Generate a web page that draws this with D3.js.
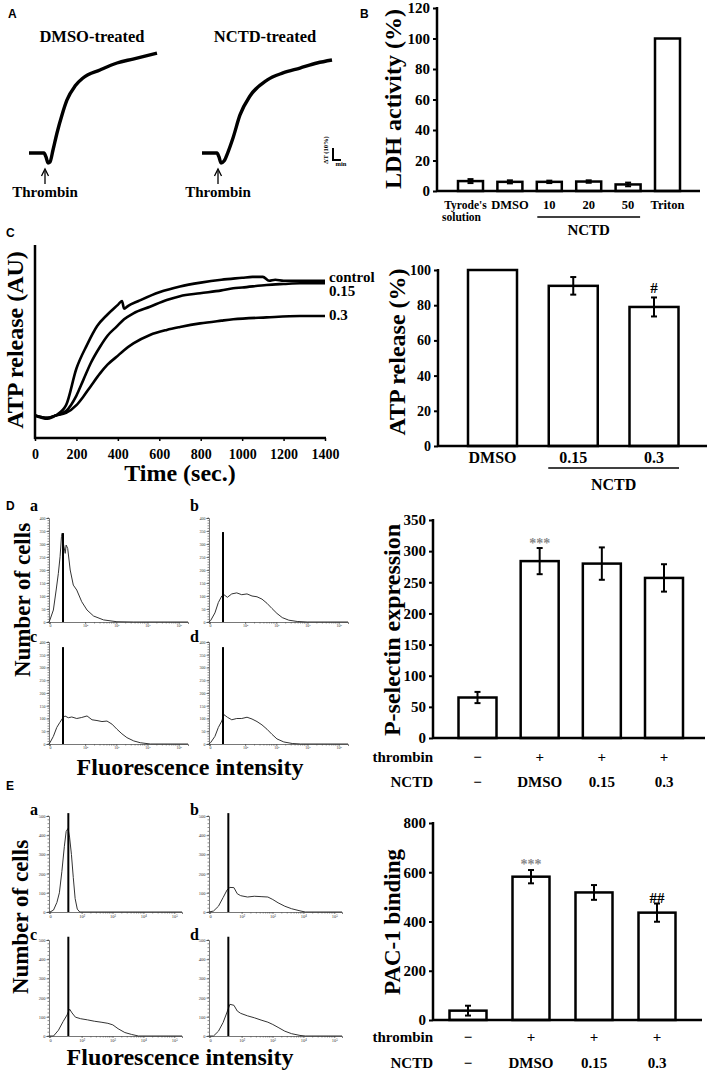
<!DOCTYPE html>
<html><head><meta charset="utf-8">
<script src="https://cdn.jsdelivr.net/npm/d3@7"></script>
<style>body{margin:0;background:#fff}svg{display:block}</style>
</head><body>
<svg id="fig" width="709" height="1077"></svg>
<script>
// ---------------- DATA ----------------
// Panel A: transmission traces (time in min, ΔT in %)
const aDmsoT = [0,1.875,2.125,2.375,2.625,3,3.5,4.125,4.75,5.75,6.75,8.875,11,13,16];
const aDmsoV = [0,0,-3.3,-8.3,-7.5,2.5,16.7,31.7,44.2,55.8,62.5,69.2,75,78.3,83.3];
const aNctdT = [0,1.875,2.125,2.375,2.75,3.25,3.875,4.75,6,8.125,10.125,12.25,14.375,16.25];
const aNctdV = [0,0,-3.3,-8.3,-6.7,0.8,12.5,31.7,47.5,60.8,66.7,70.8,75,77.5];
const aTitles = ["DMSO-treated","NCTD-treated"];
const aThrombinTime = 2.0;

// Panel B: LDH activity
const bCats = ["Tyrode's solution","DMSO","10","20","50","Triton"];
const bVals = [6.5,6,6,6.2,4.3,100];
const bErrs = [1.3,1.0,0.8,0.8,1.2,0];
const bTicks = [0,20,40,60,80,100,120];

// Panel C left: ATP release traces
const cCtrlT = [0,60,100,150,200,250,300,350,400,420,430,450,500,600,700,800,900,1000,1050,1100,1130,1160,1200,1300,1400];
const cCtrlV = [11.7,10,11.7,17,36,48,58,64,69,71,67,68.5,71,75.5,78.5,80.5,82,83,83.5,83.5,81.5,82,81.5,81.5,81.5];
const c015T = [0,60,100,150,200,233,270,314,350,394,430,475,555,636,700,797,900,957,1000,1118,1200,1279,1400];
const c015V = [11.7,10.5,11.7,14,22,30,39,47.3,53,57.7,61.5,64.6,68,71.5,73.5,75,76.5,77.6,78,79.3,79.8,80.2,80.2];
const c03T = [0,60,100,150,200,233,270,314,350,394,430,475,555,636,700,797,900,957,1118,1279,1400];
const c03V = [11.7,10.5,11.7,13,17,21.4,27,33.5,38,42.1,45.5,49,53.4,56,57.5,59.4,60.8,61.5,62.5,63.2,63.2];
const cLineLabels = ["control","0.15","0.3"];
const cTimeTicks = [0,200,400,600,800,1000,1200,1400];

// Panel C right: ATP release %
const cbCats = ["DMSO","0.15","0.3"];
const cbVals = [100,91,79];
const cbErrs = [0,5,5.4];
const cbTicks = [0,20,40,60,80,100];

// Panel D right: P-selectin
const dCats = ["ctrl","DMSO","0.15","0.3"];
const dVals = [65,284,280,257];
const dErrs = [9,21,26,22];
const dTicks = [0,50,100,150,200,250,300,350];
const rowThrombin = ["−","+","+","+"];
const rowNCTD = ["−","DMSO","0.15","0.3"];

// Panel E right: PAC-1 binding
const eVals = [38,582,518,436];
const eErrs = [20,27,30,37];
const eTicks = [0,200,400,600,800];

// Panel D histograms (x: log decade position, y: counts)
const hDaX = [0.84,0.87,0.98,1.07,1.14,1.195,1.24,1.26,1.30,1.36,1.39,1.44,1.52,1.62,1.73,1.89,2.06,2.27,2.59,3.02,3.56,5.3];
const hDaY = [0,8,46,123,187,251,328,341,303,264,296,283,200,142,123,78,46,23,8,1,0,0];
const hDbX = [0.84,0.89,1.03,1.14,1.25,1.32,1.43,1.57,1.73,1.89,2.06,2.22,2.38,2.54,2.70,2.86,3.02,3.19,3.40,3.67,3.99,5.3];
const hDbY = [0,5,35,75,100,105,95,108,112,105,108,100,97,88,72,52,33,17,7,2,0,0];
const hDcX = [0.84,0.87,0.98,1.09,1.19,1.27,1.35,1.46,1.57,1.73,1.89,2.06,2.22,2.38,2.54,2.70,2.86,3.02,3.18,3.34,3.56,3.77,4.09,5.3];
const hDcY = [0,5,30,65,85,100,110,103,106,100,104,110,95,92,88,90,78,58,40,25,12,5,0,0];
const hDdX = [0.84,0.89,1.03,1.14,1.25,1.32,1.43,1.57,1.73,1.89,2.06,2.22,2.38,2.54,2.70,2.86,3.02,3.24,3.51,3.78,5.3];
const hDdY = [0,5,30,65,90,115,105,95,100,100,105,98,88,75,58,38,20,8,2,0,0];
const hDMarkerTop = [342,346,380,380];
// Panel E histograms
const hEaX = [0.944,0.977,1.09,1.20,1.28,1.36,1.44,1.50,1.56,1.61,1.67,1.73,1.79,1.86,1.94,5.25];
const hEaY = [0,0,10,50,100,210,340,420,435,390,300,180,70,15,0,0];
const hEbX = [0.944,1.09,1.25,1.40,1.53,1.62,1.75,1.86,1.97,2.19,2.41,2.63,2.85,3.01,3.18,3.40,3.62,3.89,4.06,5.25];
const hEbY = [0,5,30,75,115,128,127,95,85,78,82,80,78,65,48,30,17,6,0,0];
const hEcX = [0.944,1.09,1.25,1.40,1.53,1.61,1.69,1.80,1.97,2.19,2.41,2.63,2.85,3.01,3.18,3.40,3.62,3.84,5.25];
const hEcY = [0,0,30,75,110,140,120,98,90,84,77,72,66,58,38,18,8,0,0];
const hEdX = [0.944,1.09,1.25,1.40,1.53,1.62,1.75,1.86,1.97,2.19,2.41,2.63,2.85,3.01,3.18,3.40,3.62,3.89,4.06,5.25];
const hEdY = [0,0,25,70,125,165,160,130,118,105,95,83,72,60,45,25,12,3,0,0];
const hEMarkerTop = [515,515,517,517];
const hDecadeTicks = ["0","10²","10³","10⁴","10⁵"];
const subLabels = ["a","b","c","d"];

// ---------------- DRAWING ----------------
const svg = d3.select("#fig");
const SERIF = '"Liberation Serif","Times New Roman",serif';
const SANS = '"Liberation Sans",Arial,sans-serif';

function txt(x, y, s, size, anchor = "middle", family = SERIF, fill = "#000") {
  return svg.append("text").attr("x", x).attr("y", y).attr("font-size", size)
    .attr("text-anchor", anchor).attr("font-family", family).attr("font-weight", "bold")
    .attr("fill", fill).text(s);
}
function vtxt(x, y, s, size) {
  return svg.append("text").attr("transform", `translate(${x},${y}) rotate(-90)`)
    .attr("text-anchor", "middle").attr("dominant-baseline", "central")
    .attr("font-size", size).attr("font-family", SERIF).attr("font-weight", "bold").text(s);
}
function line(x1, y1, x2, y2, w = 2, col = "#000") {
  svg.append("line").attr("x1", x1).attr("y1", y1).attr("x2", x2).attr("y2", y2)
    .attr("stroke", col).attr("stroke-width", w);
}

// Panel letters
txt(8, 18, "A", 12, "start", SANS);
txt(360, 18, "B", 12, "start", SANS);
txt(6, 237, "C", 12, "start", SANS);
txt(6, 510, "D", 12, "start", SANS);
txt(6, 790, "E", 12, "start", SANS);

// ---- Panel A ----
{
  const pxPerMin = 8, pxPerPct = 1.2, base = 153;
  const yA = d3.scaleLinear().domain([0, 10]).range([base, base - 10 * pxPerPct]);
  const traces = [[aDmsoT, aDmsoV, 29], [aNctdT, aNctdV, 202]];
  traces.forEach(([T, V, x0], k) => {
    const xA = d3.scaleLinear().domain([0, 1]).range([x0, x0 + pxPerMin]);
    const gen = d3.line().x(d => xA(d[0])).y(d => yA(d[1])).curve(d3.curveMonotoneX);
    svg.append("path").attr("d", gen(T.map((t, i) => [t, V[i]])))
      .attr("fill", "none").attr("stroke", "#000").attr("stroke-width", 3.4);
    const ax = xA(aThrombinTime);
    line(ax, 171, ax, 184, 1.3);
    svg.append("path").attr("d", `M${ax - 3.5},${176} L${ax},${169} L${ax + 3.5},${176}`)
      .attr("fill", "none").attr("stroke", "#000").attr("stroke-width", 1.3);
    txt(ax, 197, "Thrombin", 15);
    txt(x0 + 63, 42, aTitles[k], 16.5);
  });
  // scale bar: 10% and 1 min
  const sbX = 333, sbY = 160;
  const xS = d3.scaleLinear().domain([0, 1]).range([sbX, sbX + pxPerMin]);
  const yS = d3.scaleLinear().domain([0, 10]).range([sbY, sbY - 10 * pxPerPct]);
  line(sbX, yS(10), sbX, yS(0) + 1, 2);
  line(sbX, sbY, xS(1), sbY, 2);
  svg.append("text").attr("transform", `translate(325,${sbY - 10}) rotate(-90)`)
    .attr("text-anchor", "middle").attr("dominant-baseline", "central")
    .attr("font-size", 6.5).attr("font-family", SERIF).attr("font-weight", "bold").text("ΔT (10%)");
  txt(sbX + 8, sbY + 6, "min", 6.5);
}

// ---- Generic bar chart ----
function barChart(o) {
  const y0 = o.y(0);
  svg.append("g").selectAll("rect").data(o.cats).join("rect")
    .attr("x", c => o.x(c) - o.barW / 2)
    .attr("y", (c, i) => o.y(o.vals[i]))
    .attr("width", o.barW)
    .attr("height", (c, i) => y0 - o.y(o.vals[i]))
    .attr("fill", "#fff").attr("stroke", "#000").attr("stroke-width", 2.5);
  o.cats.forEach((c, i) => {
    if (!o.errs[i]) return;
    const cx = o.x(c), yt = o.y(o.vals[i] + o.errs[i]), yb = o.y(o.vals[i] - o.errs[i]);
    line(cx, yt, cx, yb, 2);
    line(cx - 3, yt, cx + 3, yt, 2);
    line(cx - 3, yb, cx + 3, yb, 2);
  });
  const ay = svg.append("g").attr("transform", `translate(${o.axisX},0)`)
    .call(d3.axisLeft(o.y).tickValues(o.ticks).tickFormat(d3.format("d")).tickSize(4).tickPadding(3));
  ay.select(".domain").remove();
  ay.selectAll("line").attr("stroke-width", 2);
  ay.selectAll("text").attr("font-family", SERIF).attr("font-weight", "bold").attr("font-size", o.tickFs || 15);
  line(o.axisX, o.y(o.ticks[o.ticks.length - 1]) - 1, o.axisX, y0 + 1, 2.5);
  line(o.axisX, y0, o.axisEnd, y0, 2.5);
}

// ---- Panel B ----
{
  const y = d3.scaleLinear().domain([0, 120]).range([191, 8]);
  const x = d3.scalePoint().domain(bCats).range([470.5, 667.5]);
  barChart({ cats: bCats, vals: bVals, errs: bErrs, x, y, barW: 25, axisX: 437, axisEnd: 700, ticks: bTicks, tickFs: 15 });
  bCats.forEach(c => {
    if (c === "Tyrode's solution") {
      txt(x(c) - 5, 209, "Tyrode's", 11.5);
      txt(x(c) - 9, 221, "solution", 11.5);
    } else txt(x(c), 209, c, 12.5);
  });
  line(x("10") - 12, 217, x("50") + 12, 217, 1.5);
  txt((x("10") + x("50")) / 2, 235, "NCTD", 15);
  vtxt(393, 99, "LDH activity (%)", 24);
}

// ---- Panel C left ----
{
  const x = d3.scaleLinear().domain([0, 1400]).range([35, 325]);
  const y = d3.scaleLinear().domain([0, 100]).range([438, 245]);
  const gen = d3.line().x(d => x(d[0])).y(d => y(d[1])).curve(d3.curveMonotoneX);
  [[c03T, c03V], [c015T, c015V], [cCtrlT, cCtrlV]].forEach(([T, V]) => {
    svg.append("path").attr("d", gen(T.map((t, i) => [t, V[i]])))
      .attr("fill", "none").attr("stroke", "#000").attr("stroke-width", 2.6);
  });
  const ax = svg.append("g").attr("transform", "translate(0,438)")
    .call(d3.axisBottom(x).tickValues(cTimeTicks).tickFormat(d3.format("d")).tickSize(3).tickPadding(8));
  ax.select(".domain").remove();
  ax.selectAll("line").attr("stroke-width", 1.5);
  ax.selectAll("text").attr("font-family", SERIF).attr("font-weight", "bold").attr("font-size", 14);
  line(35, 245, 35, 439, 2.5);
  line(34, 438, 326, 438, 2.5);
  txt(329, 282, cLineLabels[0], 15, "start");
  txt(329, 296, cLineLabels[1], 15, "start");
  txt(329, 320, cLineLabels[2], 15, "start");
  txt(180, 481, "Time (sec.)", 24);
  vtxt(15, 340, "ATP release (AU)", 24);
}

// ---- Panel C right ----
{
  const y = d3.scaleLinear().domain([0, 100]).range([446, 270]);
  const x = d3.scalePoint().domain(cbCats).range([492.5, 654]);
  barChart({ cats: cbCats, vals: cbVals, errs: cbErrs, x, y, barW: 49, axisX: 438, axisEnd: 707, ticks: cbTicks, tickFs: 14 });
  cbCats.forEach(c => txt(x(c), 463, c, 16));
  line(x("0.15") - 25, 468, x("0.3") + 25, 468, 1.5);
  txt((x("0.15") + x("0.3")) / 2, 490, "NCTD", 16);
  txt(x("0.3"), 293, "#", 15);
  vtxt(397, 352, "ATP release (%)", 24);
}

// ---- Panel D right ----
{
  const y = d3.scaleLinear().domain([0, 350]).range([738, 520]);
  const x = d3.scalePoint().domain(dCats).range([477.5, 664]);
  barChart({ cats: dCats, vals: dVals, errs: dErrs, x, y, barW: 38, axisX: 433, axisEnd: 705, ticks: dTicks, tickFs: 15 });
  txt(433, 762, "thrombin", 15, "end");
  txt(433, 787, "NCTD", 15, "end");
  dCats.forEach((c, i) => { txt(x(c), 762, rowThrombin[i], 15); txt(x(c), 787, rowNCTD[i], 15); });
  txt(x("DMSO"), 548, "***", 14, "middle", SERIF, "#888");
  vtxt(392, 630, "P-selectin expression", 24);
}

// ---- Panel E right ----
{
  const y = d3.scaleLinear().domain([0, 800]).range([1020, 823]);
  const x = d3.scalePoint().domain(dCats).range([468, 657]);
  barChart({ cats: dCats, vals: eVals, errs: eErrs, x, y, barW: 37, axisX: 433, axisEnd: 702, ticks: eTicks, tickFs: 15 });
  txt(433, 1042, "thrombin", 15, "end");
  txt(433, 1068, "NCTD", 15, "end");
  dCats.forEach((c, i) => { txt(x(c), 1042, rowThrombin[i], 15); txt(x(c), 1068, rowNCTD[i], 15); });
  txt(x("DMSO"), 869, "***", 14, "middle", SERIF, "#888");
  txt(x("0.3"), 903, "##", 15);
  vtxt(392, 922, "PAC-1 binding", 23);
}

// ---- Histograms ----
function histo(o) {
  const x = d3.scaleLinear().domain(o.xDom).range([o.ox, o.ox + o.w]);
  const y = d3.scaleLinear().domain([0, o.yMax]).range([o.bottom, o.top]);
  const g = svg.append("g");
  d3.range(0, o.yMax + 1, o.yMinor).forEach(v => {
    g.append("line").attr("x1", o.ox - 1.5).attr("x2", o.ox).attr("y1", y(v)).attr("y2", y(v)).attr("stroke", "#444").attr("stroke-width", 0.6);
  });
  const ay = svg.append("g").attr("transform", `translate(${o.ox},0)`)
    .call(d3.axisLeft(y).tickValues(d3.range(0, o.yMax + 1, o.yStep)).tickSize(2.5).tickPadding(1));
  ay.select(".domain").attr("stroke", "#555").attr("stroke-width", 0.8);
  ay.selectAll("line").attr("stroke", "#444").attr("stroke-width", 0.7);
  ay.selectAll("text").attr("font-family", SERIF).attr("font-size", o.fs).attr("fill", "#333");
  const tickPos = [o.zeroPos, 2, 3, 4, 5];
  const ax = svg.append("g").attr("transform", `translate(0,${o.bottom})`)
    .call(d3.axisBottom(x).tickValues(tickPos).tickFormat((d, i) => hDecadeTicks[i]).tickSize(2).tickPadding(0.5));
  ax.select(".domain").attr("stroke", "#555").attr("stroke-width", 0.8);
  ax.selectAll("line").attr("stroke", "#444").attr("stroke-width", 0.7);
  ax.selectAll("text").attr("font-family", SERIF).attr("font-size", o.fs).attr("fill", "#333");
  [2, 3, 4, 5].forEach(dd => {
    d3.range(2, 10).forEach(k => {
      const p = dd + Math.log10(k);
      if (p > o.xDom[1]) return;
      g.append("line").attr("x1", x(p)).attr("x2", x(p)).attr("y1", o.bottom).attr("y2", o.bottom + 1.5).attr("stroke", "#444").attr("stroke-width", 0.6);
    });
  });
  const gen = d3.line().x(d => x(d[0])).y(d => y(d[1]));
  svg.append("path").attr("d", gen(o.xs.map((v, i) => [v, o.ys[i]])))
    .attr("fill", "none").attr("stroke", "#333").attr("stroke-width", 1);
  line(x(o.marker), y(o.markerTop), x(o.marker), o.bottom, 2);
  txt(o.ox - 19, o.labelY, o.label, 16, "start");
}

const dHist = [[hDaX, hDaY], [hDbX, hDbY], [hDcX, hDcY], [hDdX, hDdY]];
dHist.forEach(([xs, ys], i) => {
  const col = i % 2, row = Math.floor(i / 2);
  histo({
    xs, ys, ox: col ? 209 : 49, w: 139, xDom: [0.84, 5.3], zeroPos: 0.87,
    top: row ? 642 : 518, bottom: row ? 744 : 622, yMax: 400, yStep: 50, yMinor: 10, fs: 4,
    marker: 1.29, markerTop: hDMarkerTop[i], label: subLabels[i], labelY: row ? 642 : 511
  });
});
const eHist = [[hEaX, hEaY], [hEbX, hEbY], [hEcX, hEcY], [hEdX, hEdY]];
eHist.forEach(([xs, ys], i) => {
  const col = i % 2, row = Math.floor(i / 2);
  histo({
    xs, ys, ox: col ? 209 : 49, w: 133, xDom: [0.944, 5.25], zeroPos: 0.98,
    top: row ? 940 : 816, bottom: row ? 1036 : 912, yMax: 500, yStep: 100, yMinor: 20, fs: 4.5,
    marker: 1.57, markerTop: hEMarkerTop[i], label: subLabels[i], labelY: row ? 940 : 815
  });
});
vtxt(22, 600, "Number of cells", 23);
txt(190, 775, "Fluorescence intensity", 24);
vtxt(20, 917, "Number of cells", 23);
txt(180, 1065, "Fluorescence intensity", 24);
</script>
</body></html>
